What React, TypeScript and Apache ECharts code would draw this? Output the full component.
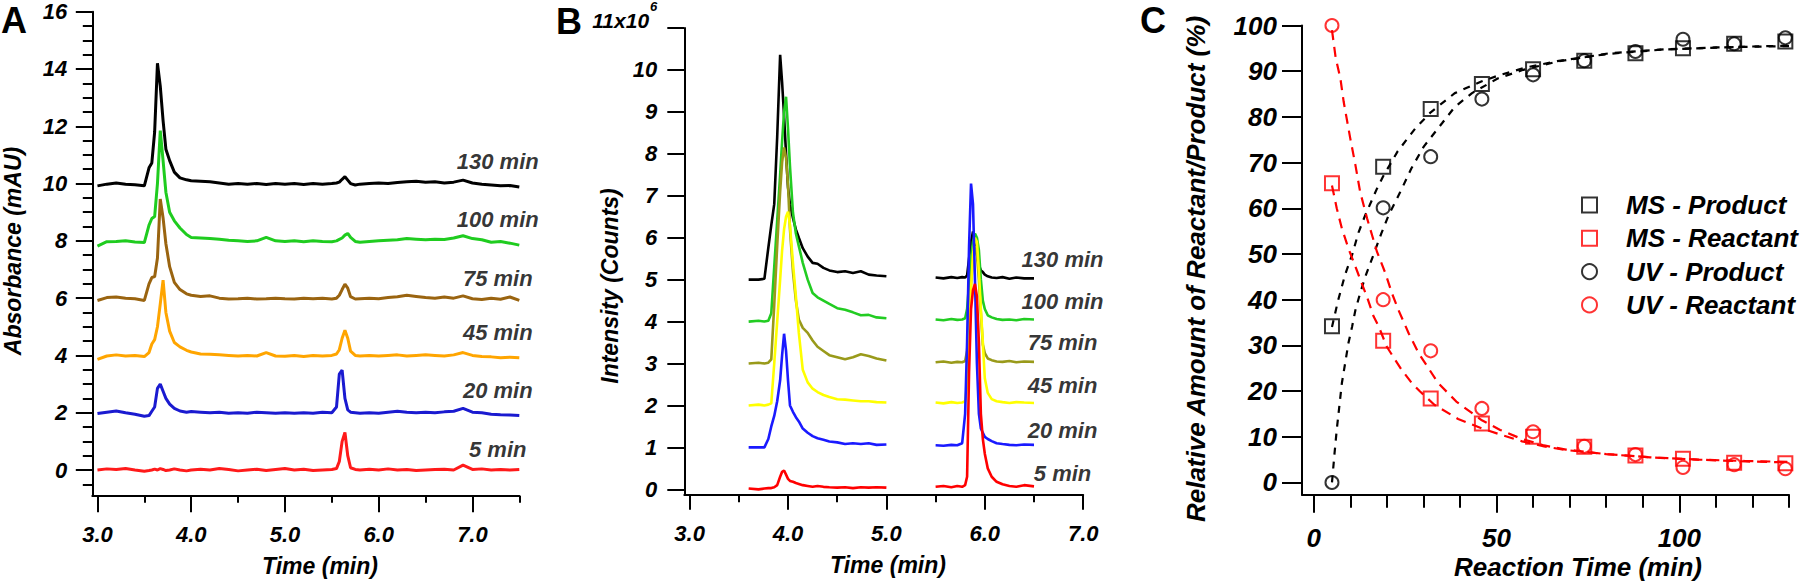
import React, { useEffect, useRef } from 'react';
import * as echarts from 'echarts';

const FONT = "'Liberation Sans', Arial, Helvetica, sans-serif";

// ---------------- Panel A (UV chromatograms) ----------------
const TIME_A = [3.00, 3.10, 3.20, 3.30, 3.40, 3.50, 3.55, 3.58, 3.61, 3.64, 3.67, 3.70, 3.73, 3.77, 3.82, 3.88, 3.95,
  4.00, 4.10, 4.20, 4.30, 4.40, 4.50, 4.60, 4.70, 4.80, 4.90, 5.00, 5.10, 5.20, 5.30, 5.40, 5.50,
  5.55, 5.58, 5.61, 5.64, 5.67, 5.70, 5.75, 5.80,
  5.90, 6.00, 6.10, 6.20, 6.30, 6.40, 6.50, 6.60, 6.70, 6.80, 6.90, 7.00, 7.10, 7.20, 7.30, 7.40, 7.50];
const A_130 = [9.92, 9.98, 10.02, 9.98, 9.96, 9.92, 10.55, 10.72, 11.8, 14.2, 13.4, 12.2, 11.2, 10.8, 10.4, 10.2, 10.13,
  10.1, 10.08, 10.06, 10.02, 9.98, 10.0, 9.98, 10.0, 9.97, 10.0, 9.98, 10.0, 9.97, 10.0, 9.98, 10.0,
  10.02, 10.05, 10.15, 10.24, 10.12, 10.0, 9.95, 9.98,
  10.0, 10.02, 10.0, 10.04, 10.06, 10.08, 10.05, 10.06, 10.02, 10.05, 10.12, 10.02, 9.98, 9.95, 9.92, 9.93, 9.88];
const A_100 = [7.82, 7.97, 7.98, 8.0, 7.96, 7.94, 8.55, 8.78, 8.85, 10.0, 11.85, 10.8, 9.7, 9.0, 8.7, 8.45, 8.22,
  8.12, 8.1, 8.08, 8.06, 8.02, 8.0, 7.98, 8.0, 8.12, 8.0, 7.98, 8.0, 7.97, 8.0, 7.98, 7.97,
  8.0, 8.05, 8.1, 8.2, 8.26, 8.12, 7.98, 7.95,
  7.98, 8.0, 8.02, 8.04, 8.08, 8.06, 8.04, 8.06, 8.05, 8.1, 8.18, 8.08, 8.04, 7.95, 7.98, 7.92, 7.85];
const A_75 = [5.92, 6.02, 6.04, 6.0, 5.98, 5.92, 6.5, 6.72, 6.75, 7.4, 9.46, 8.8, 7.9, 7.1, 6.55, 6.3, 6.15,
  6.1, 6.06, 6.08, 6.0, 5.97, 5.98, 6.0, 5.97, 5.98, 6.0, 5.98, 5.97, 6.0, 5.98, 6.0, 5.97,
  6.0, 6.1, 6.3, 6.49, 6.35, 6.05, 5.97, 5.98,
  6.0, 5.98, 6.02, 6.05, 6.1, 6.06, 6.02, 6.0, 6.04, 6.0, 6.08, 5.98, 5.95, 6.0, 5.96, 6.04, 5.92];
const A_45 = [3.86, 3.98, 4.02, 3.98, 4.0, 3.96, 4.1, 4.4, 4.55, 5.0, 5.8, 6.63, 5.5, 4.85, 4.45, 4.3, 4.18,
  4.12, 4.05, 4.04, 4.02, 4.0, 3.98, 4.0, 3.98, 4.1, 3.98, 3.97, 4.0, 3.96, 4.0, 3.98, 4.0,
  4.05, 4.2, 4.6, 4.88, 4.6, 4.15, 4.0, 3.98,
  4.0, 3.98, 4.0, 4.02, 3.98, 4.0, 4.02, 4.0, 3.98, 4.02, 4.1, 4.0, 3.96, 3.95, 3.92, 3.94, 3.92];
const A_20 = [1.97, 2.02, 2.06, 2.0, 1.95, 1.88, 1.9, 2.05, 2.2, 2.85, 3.0, 2.75, 2.5, 2.3, 2.15, 2.06, 2.02,
  2.04, 2.02, 2.0, 2.02, 1.98, 2.0, 1.98, 2.02, 2.0, 1.98, 2.0, 1.98, 2.0, 1.98, 2.02, 2.0,
  2.2, 3.35, 3.49, 2.5, 2.1, 2.02, 2.0, 1.98,
  2.0, 1.98, 2.02, 2.05, 2.02, 2.0, 2.02, 2.0, 2.03, 2.05, 2.15, 2.02, 2.0, 1.95, 1.93, 1.92, 1.9];
const A_5 = [0.0, 0.04, 0.02, 0.05, 0.0, -0.04, -0.02, 0.0, 0.03, 0.0, 0.05, 0.02, -0.02, 0.0, 0.04, 0.0, -0.03,
  0.0, 0.03, 0.0, 0.05, 0.02, -0.03, 0.0, 0.03, -0.02, 0.02, 0.05, 0.0, 0.03, -0.02, 0.0, 0.02,
  0.05, 0.3, 1.0, 1.31, 0.5, 0.08, 0.02, 0.0,
  0.03, 0.0, 0.04, 0.0, 0.02, -0.02, 0.0, 0.02, 0.03, 0.0, 0.17, 0.02, 0.04, 0.0, 0.02, 0.0, 0.02];
const A_TRACES = [A_130, A_100, A_75, A_45, A_20, A_5];
const A_COLORS = ['#000000', '#1fcc1f', '#9a6410', '#ffa500', '#1a1ad0', '#ff1a1a'];

// ---------------- Panel B (MS chromatograms) ----------------
const TIME_B1 = [3.60, 3.70, 3.76, 3.80, 3.83, 3.86, 3.89, 3.92, 3.94, 3.96, 3.98, 4.00, 4.02, 4.05, 4.08, 4.11, 4.15,
  4.20, 4.25, 4.30, 4.36, 4.42, 4.50, 4.58, 4.66, 4.74, 4.82, 4.90, 5.00];
const TIME_B2 = [5.50, 5.58, 5.66, 5.72, 5.77, 5.80, 5.82, 5.84, 5.86, 5.88, 5.90, 5.92, 5.94, 5.96, 5.98, 6.00, 6.03,
  6.07, 6.12, 6.18, 6.25, 6.32, 6.40, 6.50];
const B1_130 = [5.0, 5.0, 5.02, 5.76, 6.3, 6.8, 8.4, 10.36, 9.7, 8.9, 8.0, 7.2, 6.8, 6.47, 6.2, 6.0, 5.75, 5.55, 5.4, 5.38, 5.28, 5.22, 5.18, 5.2, 5.16, 5.2, 5.12, 5.1, 5.08];
const B1_100 = [4.0, 4.02, 4.0, 4.02, 4.2, 5.3, 6.4, 7.5, 8.3, 9.0, 9.36, 8.6, 7.7, 6.6, 6.1, 5.8, 5.4, 5.0, 4.68, 4.58, 4.5, 4.42, 4.32, 4.28, 4.22, 4.15, 4.16, 4.1, 4.08];
const B1_75 = [3.0, 3.02, 3.0, 3.02, 3.1, 4.4, 5.8, 7.1, 7.8, 8.15, 7.9, 7.25, 6.2, 5.2, 4.5, 4.05, 3.85, 3.73, 3.55, 3.4, 3.3, 3.2, 3.15, 3.1, 3.15, 3.22, 3.18, 3.12, 3.07];
const B1_45 = [2.0, 2.02, 2.0, 2.02, 2.05, 3.0, 4.0, 5.0, 5.7, 6.2, 6.5, 6.62, 6.3, 5.4, 4.6, 3.73, 2.85, 2.55, 2.4, 2.32, 2.25, 2.2, 2.15, 2.14, 2.12, 2.1, 2.1, 2.08, 2.07];
const B1_20 = [1.0, 1.0, 1.0, 1.2, 1.5, 1.75, 2.1, 2.6, 3.2, 3.71, 3.3, 2.6, 2.0, 1.85, 1.72, 1.62, 1.45, 1.35, 1.27, 1.22, 1.18, 1.14, 1.12, 1.08, 1.1, 1.08, 1.1, 1.06, 1.07];
const B1_5 = [0.02, 0.0, 0.02, 0.03, 0.03, 0.05, 0.1, 0.3, 0.42, 0.45, 0.35, 0.25, 0.2, 0.18, 0.15, 0.13, 0.1, 0.08, 0.06, 0.08, 0.06, 0.05, 0.04, 0.05, 0.03, 0.05, 0.04, 0.05, 0.04];
const B2_130 = [5.05, 5.03, 5.06, 5.04, 5.06, 5.05, 5.1, 5.5, 5.9, 6.15, 5.9, 5.6, 5.35, 5.22, 5.18, 5.12, 5.08, 5.05, 5.04, 5.06, 5.02, 5.05, 5.03, 5.03];
const B2_100 = [4.05, 4.03, 4.06, 4.04, 4.05, 4.08, 4.3, 4.9, 5.5, 5.9, 6.1, 6.0, 5.7, 5.0, 4.5, 4.3, 4.15, 4.1, 4.06, 4.04, 4.05, 4.03, 4.06, 4.05];
const B2_75 = [3.03, 3.05, 3.02, 3.04, 3.03, 3.06, 3.3, 4.0, 4.9, 5.5, 5.8, 5.6, 5.0, 4.2, 3.45, 3.25, 3.12, 3.08, 3.05, 3.04, 3.06, 3.03, 3.05, 3.04];
const B2_45 = [2.07, 2.05, 2.08, 2.06, 2.07, 2.1, 2.5, 3.5, 4.8, 5.6, 6.0, 5.9, 5.2, 4.3, 3.5, 2.65, 2.3, 2.15, 2.1, 2.08, 2.06, 2.08, 2.07, 2.06];
const B2_20 = [1.05, 1.04, 1.06, 1.05, 1.1, 1.8, 3.5, 5.8, 7.29, 6.8, 5.0, 3.0, 1.8, 1.45, 1.35, 1.25, 1.2, 1.15, 1.1, 1.08, 1.06, 1.05, 1.07, 1.06];
const B2_5 = [0.06, 0.08, 0.05, 0.08, 0.06, 0.1, 0.3, 2.8, 4.3, 4.75, 4.9, 4.6, 3.5, 1.8, 1.2, 0.85, 0.5, 0.3, 0.18, 0.12, 0.08, 0.06, 0.1, 0.07];
const B1_TRACES = [B1_130, B1_100, B1_75, B1_45, B1_20, B1_5];
const B2_TRACES = [B2_130, B2_100, B2_75, B2_45, B2_20, B2_5];
const B_COLORS = ['#000000', '#22cc22', '#999a1a', '#ffff00', '#1a1aff', '#ff0000'];

// Trace labels
const TRACE_LABELS = ['130 min', '100 min', '75 min', '45 min', '20 min', '5 min'];
const A_LABEL_X = 7.27;
const A_LABEL_Y = [10.76, 8.73, 6.69, 4.81, 2.79, 0.70];
const B_LABEL_X = 6.79;
const B_LABEL_Y = [5.49, 4.48, 3.5, 2.48, 1.41, 0.38];

// Axis ticks
const A_X_MAJOR = [3, 4, 5, 6, 7];
const A_X_MINOR = [3.5, 4.5, 5.5, 6.5, 7.5];
const A_Y_MAJOR = [0, 2, 4, 6, 8, 10, 12, 14, 16];
const A_Y_MINOR = [-0.5, 0.5, 1, 1.5, 2.5, 3, 3.5, 4.5, 5, 5.5, 6.5, 7, 7.5, 8.5, 9, 9.5, 10.5, 11, 11.5, 12.5, 13, 13.5, 14.5, 15, 15.5];
const B_X_MAJOR = [3, 4, 5, 6, 7];
const B_X_MINOR = [3.5, 4.5, 5.5, 6.5];
const B_Y_MAJOR = [0, 1, 2, 3, 4, 5, 6, 7, 8, 9, 10, 11];
const C_X_MAJOR = [0, 50, 100];
const C_X_MINOR = [10, 20, 30, 40, 60, 70, 80, 90, 110, 120, 130];
const C_Y_MAJOR = [0, 10, 20, 30, 40, 50, 60, 70, 80, 90, 100];

// ---------------- Panel C (kinetics) ----------------
const C_TIME = [5, 19, 32, 46, 60, 74, 88, 101, 115, 129];
const MS_PRODUCT = [34.2, 69.1, 81.7, 87.2, 90.4, 92.3, 93.9, 95.0, 96.0, 96.5];
const MS_REACTANT = [65.5, 31.0, 18.4, 12.9, 10.0, 7.8, 5.9, 5.2, 4.3, 4.2];
const UV_PRODUCT = [0.0, 60.1, 71.3, 83.9, 89.2, 92.3, 94.3, 97.0, 96.0, 97.3];
const UV_REACTANT = [100.0, 40.0, 28.8, 16.2, 11.1, 7.9, 6.1, 3.3, 3.9, 3.0];

const FIT_MS_PRODUCT_T = [5, 6.6, 8.6, 10.5, 12.3, 14.1, 17.3, 19, 23, 27.8, 32, 38.6, 46, 50.3, 58, 66.6, 80.7, 95, 107.6, 120, 130];
const FIT_MS_PRODUCT = [34, 39.6, 45.5, 49.8, 54.8, 58.5, 64.3, 67, 72.5, 77.5, 81, 85.2, 87.8, 89, 90.8, 92.2, 93.8, 94.7, 95.1, 95.4, 95.6];
const FIT_UV_PRODUCT_T = [5, 5.7, 6.3, 7, 7.7, 8.6, 9.5, 10.5, 11.4, 12.7, 14.1, 15.5, 16.8, 18.5, 20.5, 23.7, 26.7, 30.1, 35.1, 38.6, 43.3, 50.3, 57.3, 66.6, 80.7, 95.9, 110, 122.8, 130];
const FIT_UV_PRODUCT = [0, 6.4, 11.5, 16.6, 21.7, 26.1, 30.5, 34.1, 37.7, 41.4, 45, 48, 50.8, 54.5, 58.5, 63.6, 68.7, 73.5, 78.6, 82.2, 85.2, 88.4, 90.3, 92.1, 93.9, 94.8, 95.2, 95.4, 95.5];
const FIT_MS_REACTANT_T = [5, 6.3, 7.7, 9.5, 12, 14.7, 16.4, 17.8, 20, 22.3, 24.1, 26.9, 29.1, 33, 39.5, 46, 51, 57, 63, 69, 80, 92, 105, 118, 130];
const FIT_MS_REACTANT = [65, 60, 55.6, 51.2, 46, 40.3, 36.3, 34.1, 29.7, 26.8, 24.6, 21.7, 19.9, 17, 13.9, 11.8, 10.5, 9.0, 7.9, 7.1, 6.2, 5.5, 5.0, 4.6, 4.4];
const FIT_UV_REACTANT_T = [5, 6, 7.3, 8.2, 10, 11.4, 12.7, 14.6, 17.3, 19.6, 21.4, 23.2, 26, 28.7, 34, 39, 46, 51, 57, 63, 69, 80, 92, 105, 118, 130];
const FIT_UV_REACTANT = [99, 93, 88.4, 83.3, 75.3, 69.5, 63.6, 57.8, 50.5, 45.8, 41.4, 37.7, 32.6, 28.3, 21.8, 17.7, 13.6, 11.5, 9.5, 8.1, 7.2, 6.2, 5.5, 5.0, 4.7, 4.5];

const LEGEND_NAMES = ['MS - Product', 'MS - Reactant', 'UV - Product', 'UV - Reactant'];

const pairs = (xs: number[], ys: number[]) => xs.map((x, i) => [x, ys[i]]);
const txt = (size: number) => ({ fontFamily: FONT, fontWeight: 'bold' as const, fontStyle: 'italic' as const, fontSize: size, color: '#000' });

function valueAxis(o: any) {
  const { gridIndex, min, max, ticks, tickLen, labels, labelSize, margin, formatter, position, rich } = o;
  return {
    type: 'value', gridIndex, min, max, position,
    axisLine: { show: !!o.line, onZero: false, lineStyle: { color: '#000', width: 2 } },
    axisTick: { show: true, length: tickLen, customValues: ticks, lineStyle: { color: '#000', width: 2 } },
    axisLabel: labels
      ? { show: true, customValues: ticks, margin, formatter, rich, ...txt(labelSize) }
      : { show: false },
    splitLine: { show: false },
    minorTick: { show: false },
  };
}

function buildOption() {
  const series: any[] = [];
  A_TRACES.forEach((ys, i) => {
    series.push({
      type: 'line', xAxisIndex: 0, yAxisIndex: 0, data: pairs(TIME_A, ys), showSymbol: false, symbol: 'none',
      lineStyle: { color: A_COLORS[i], width: 3 }, silent: true,
    });
  });
  series.push({
    type: 'scatter', xAxisIndex: 0, yAxisIndex: 0, symbolSize: 0.1, silent: true,
    itemStyle: { color: 'rgba(0,0,0,0)' },
    data: A_LABEL_Y.map((y, i) => [A_LABEL_X, y, TRACE_LABELS[i]]),
    label: { show: true, position: 'inside', formatter: (p: any) => p.value[2], ...txt(22) },
  });
  B1_TRACES.forEach((ys, i) => {
    series.push({
      type: 'line', xAxisIndex: 2, yAxisIndex: 2, data: pairs(TIME_B1, ys), showSymbol: false, symbol: 'none',
      lineStyle: { color: B_COLORS[i], width: 2.6 }, silent: true,
    });
    series.push({
      type: 'line', xAxisIndex: 2, yAxisIndex: 2, data: pairs(TIME_B2, B2_TRACES[i]), showSymbol: false, symbol: 'none',
      lineStyle: { color: B_COLORS[i], width: 2.6 }, silent: true,
    });
  });
  series.push({
    type: 'scatter', xAxisIndex: 2, yAxisIndex: 2, symbolSize: 0.1, silent: true,
    itemStyle: { color: 'rgba(0,0,0,0)' },
    data: B_LABEL_Y.map((y, i) => [B_LABEL_X, y, TRACE_LABELS[i]]),
    label: { show: true, position: 'inside', formatter: (p: any) => p.value[2], ...txt(22) },
  });
  const fit = (t: number[], v: number[], color: string, dash: number[]) => ({
    type: 'line', xAxisIndex: 4, yAxisIndex: 3, data: pairs(t, v), showSymbol: false, symbol: 'none', smooth: false,
    lineStyle: { color, width: 2.2, type: dash }, silent: true,
  });
  series.push(fit(FIT_MS_PRODUCT_T, FIT_MS_PRODUCT, '#000', [7, 7]));
  series.push(fit(FIT_UV_PRODUCT_T, FIT_UV_PRODUCT, '#000', [7, 7]));
  series.push(fit(FIT_MS_REACTANT_T, FIT_MS_REACTANT, '#ff0000', [10, 7]));
  series.push(fit(FIT_UV_REACTANT_T, FIT_UV_REACTANT, '#ff0000', [10, 7]));
  const marker = (name: string, ys: number[], color: string, symbol: string, size: number) => ({
    type: 'scatter', name, xAxisIndex: 4, yAxisIndex: 3, data: pairs(C_TIME, ys), symbol, symbolSize: size,
    itemStyle: { color: 'rgba(255,255,255,0)', borderColor: color, borderWidth: 2 }, silent: true,
  });
  series.push(marker(LEGEND_NAMES[0], MS_PRODUCT, '#000', 'rect', 14));
  series.push(marker(LEGEND_NAMES[1], MS_REACTANT, '#ff0000', 'rect', 14));
  series.push(marker(LEGEND_NAMES[2], UV_PRODUCT, '#000', 'circle', 13));
  series.push(marker(LEGEND_NAMES[3], UV_REACTANT, '#ff0000', 'circle', 13));

  const gtext = (text: string, x: number, y: number, size: number, opts: any = {}) => ({
    type: 'text', x, y, rotation: opts.rotate ? Math.PI / 2 : 0, silent: true,
    style: {
      text, fill: '#000', fontFamily: FONT, fontWeight: 'bold', fontStyle: opts.upright ? 'normal' : 'italic', fontSize: size,
      align: opts.align || 'center', verticalAlign: 'middle',
    },
  });

  return {
    animation: false,
    backgroundColor: '#ffffff',
    grid: [
      { left: 92.3, top: 11.7, width: 427, height: 484.1 },
      { left: 684.3, top: 20, width: 398.9, height: 474.8 },
      { left: 1302, top: 25.5, width: 487, height: 469.3 },
    ],
    xAxis: [
      valueAxis({ gridIndex: 0, min: 2.945, max: 7.5, ticks: A_X_MAJOR, tickLen: 16.5, labels: true, labelSize: 22, margin: 28, formatter: (v: number) => v.toFixed(1), position: 'bottom', line: true }),
      valueAxis({ gridIndex: 0, min: 2.945, max: 7.5, ticks: A_X_MINOR, tickLen: 7, labels: false, position: 'bottom' }),
      valueAxis({ gridIndex: 1, min: 2.946, max: 7.0, ticks: B_X_MAJOR, tickLen: 15, labels: true, labelSize: 22, margin: 28, formatter: (v: number) => v.toFixed(1), position: 'bottom', line: true }),
      valueAxis({ gridIndex: 1, min: 2.946, max: 7.0, ticks: B_X_MINOR, tickLen: 7.5, labels: false, position: 'bottom' }),
      valueAxis({ gridIndex: 2, min: -3.2, max: 130, ticks: C_X_MAJOR, tickLen: 18, labels: true, labelSize: 26, margin: 30, formatter: (v: number) => String(v), position: 'bottom', line: true }),
      valueAxis({ gridIndex: 2, min: -3.2, max: 130, ticks: C_X_MINOR, tickLen: 13, labels: false, position: 'bottom' }),
    ],
    yAxis: [
      valueAxis({ gridIndex: 0, min: -0.9, max: 16, ticks: A_Y_MAJOR, tickLen: 16.5, labels: true, labelSize: 22, margin: 25, formatter: (v: number) => String(v), position: 'left', line: true }),
      valueAxis({ gridIndex: 0, min: -0.9, max: 16, ticks: A_Y_MINOR, tickLen: 9.5, labels: false, position: 'left' }),
      valueAxis({
        gridIndex: 1, min: -0.13, max: 11, ticks: B_Y_MAJOR, tickLen: 17, labels: true, labelSize: 22, margin: 27, position: 'left', line: true,
        formatter: (v: number) => (v === 11 ? '{a|11x10}{s|6}' : String(v)),
        rich: {
          a: { ...txt(21), verticalAlign: 'bottom', lineHeight: 22, padding: [0, 0, 8, 0] },
          s: { ...txt(13), verticalAlign: 'bottom', lineHeight: 13, padding: [0, 0, 26, 1] },
        },
      }),
      valueAxis({ gridIndex: 2, min: -2.7, max: 100, ticks: C_Y_MAJOR, tickLen: 20, labels: true, labelSize: 26, margin: 25, formatter: (v: number) => String(v), position: 'left', line: true }),
    ],
    legend: {
      data: LEGEND_NAMES,
      orient: 'vertical', left: 1576, top: 187, itemGap: 7.3, itemWidth: 15, itemHeight: 15,
      selectedMode: false,
      textStyle: { ...txt(26), lineHeight: 26, padding: [0, 0, 0, 24] },
    },
    series,
    graphic: [
      gtext('A', 1, 20, 36, { upright: true, align: 'left' }),
      gtext('B', 556, 21, 36, { upright: true, align: 'left' }),
      gtext('C', 1140, 20, 36, { upright: true, align: 'left' }),
      gtext('Time (min)', 320, 566, 23),
      gtext('Absorbance (mAU)', 13, 251, 23, { rotate: true }),
      gtext('Time (min)', 888, 565, 23),
      gtext('Intensity (Counts)', 610, 286, 23, { rotate: true }),
      gtext('Reaction Time (min)', 1578, 567, 26),
      gtext('Relative Amount of Reactant/Product (%)', 1196, 269, 26, { rotate: true }),
    ],
  };
}

export default function App() {
  const ref = useRef<HTMLDivElement>(null);
  useEffect(() => {
    if (!ref.current) return;
    const chart = echarts.init(ref.current, null, { renderer: 'svg' });
    chart.setOption(buildOption() as any);
    return () => chart.dispose();
  }, []);
  return <div ref={ref} style={{ position: 'fixed', left: 0, top: 0, width: 1800, height: 581, background: '#fff' }} />;
}
